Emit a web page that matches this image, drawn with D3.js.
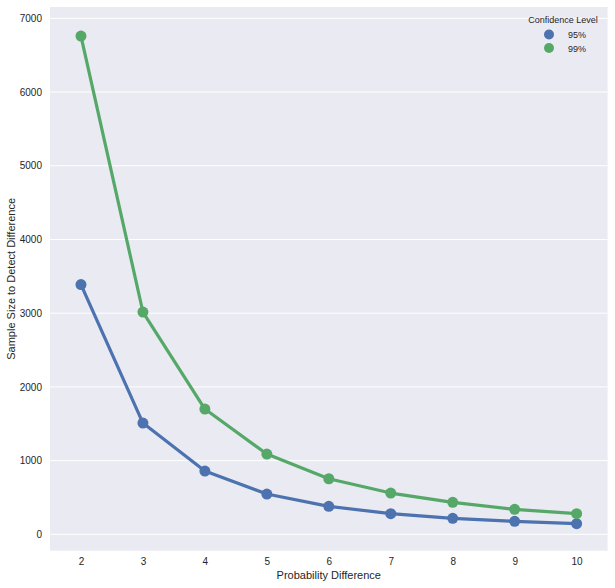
<!DOCTYPE html>
<html><head><meta charset="utf-8">
<script src="https://cdn.jsdelivr.net/npm/d3@7"></script>
<style>body{margin:0;background:#fff;font-family:"Liberation Sans",Arial,sans-serif;}</style>
</head><body>
<svg id="chart" width="615" height="588"></svg>
<script>
const categories = [2, 3, 4, 5, 6, 7, 8, 9, 10];
const seriesNames = ["95%", "99%"];
const values95 = [3388, 1510, 859, 547, 380, 280, 217, 176, 144];
const values99 = [6760, 3016, 1700, 1089, 754, 560, 434, 339, 280];
const yTicks = [0, 1000, 2000, 3000, 4000, 5000, 6000, 7000];
const colors = ["#4C72B0", "#55A868"];

const svg = d3.select("#chart");
const L = 50, R = 607.6, T = 7, B = 550.7;
const x = d3.scalePoint().domain(categories).range([L, R]).padding(0.5);
const y = d3.scaleLinear().domain([-222, 7154]).range([B, T]);

svg.append("rect").attr("x", L).attr("y", T).attr("width", R - L).attr("height", B - T).attr("fill", "#EAEAF2");

svg.append("g").selectAll("line").data(yTicks).join("line")
  .attr("x1", L).attr("x2", R).attr("y1", d => y(d)).attr("y2", d => y(d))
  .attr("stroke", "#fff").attr("stroke-width", 1);

const yAxis = svg.append("g").attr("transform", `translate(${L},0)`)
  .call(d3.axisLeft(y).tickValues(yTicks).tickSize(0).tickPadding(8).tickFormat(d3.format("d")));
yAxis.select(".domain").remove();
yAxis.selectAll("text").attr("font-size", 10).attr("fill", "#262626").attr("font-family", "Liberation Sans, Arial, sans-serif");

const xAxis = svg.append("g").attr("transform", `translate(0,${B})`)
  .call(d3.axisBottom(x).tickSize(0).tickPadding(7));
xAxis.select(".domain").remove();
xAxis.selectAll("text").attr("font-size", 10).attr("fill", "#262626").attr("font-family", "Liberation Sans, Arial, sans-serif");

svg.append("text").attr("x", (L + R) / 2).attr("y", 579).attr("text-anchor", "middle")
  .attr("font-size", 11).attr("fill", "#262626").text("Probability Difference");
svg.append("text").attr("transform", `translate(15,${(T + B) / 2}) rotate(-90)`).attr("text-anchor", "middle")
  .attr("font-size", 11).attr("fill", "#262626").text("Sample Size to Detect Difference");

const series = [values95, values99];
const line = d3.line().x((d, i) => x(categories[i])).y(d => y(d));
series.forEach((vals, si) => {
  svg.append("path").datum(vals).attr("d", line).attr("fill", "none")
    .attr("stroke", colors[si]).attr("stroke-width", 3.2).attr("stroke-linejoin", "round");
  svg.append("g").selectAll("circle").data(vals).join("circle")
    .attr("cx", (d, i) => x(categories[i])).attr("cy", d => y(d)).attr("r", 5.5).attr("fill", colors[si]);
});

const lg = svg.append("g");
lg.append("text").attr("x", 563).attr("y", 23).attr("text-anchor", "middle").attr("font-size", 9)
  .attr("fill", "#262626").text("Confidence Level");
seriesNames.forEach((n, i) => {
  lg.append("circle").attr("cx", 549).attr("cy", 34.5 + i * 13.5).attr("r", 5).attr("fill", colors[i]);
  lg.append("text").attr("x", 568).attr("y", 38 + i * 13.5).attr("font-size", 9).attr("fill", "#262626").text(n);
});
</script>
</body></html>
